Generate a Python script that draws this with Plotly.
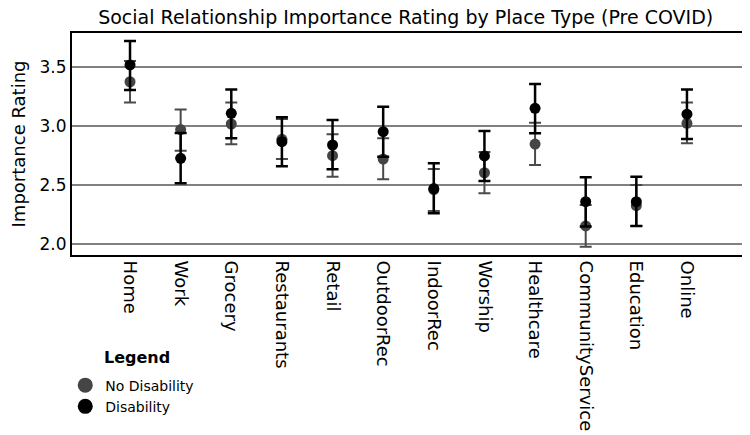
import plotly.graph_objects as go

categories = ["Home", "Work", "Grocery", "Restaurants", "Retail", "OutdoorRec",
              "IndoorRec", "Worship", "Healthcare", "CommunityService", "Education", "Online"]

# No Disability: mean, upper CI, lower CI
nd_mean = [3.375, 2.97, 3.017, 2.887, 2.749, 2.72, 2.46, 2.604, 2.847, 2.153, 2.325, 3.023]
nd_upper = [3.55, 3.14, 3.20, 3.06, 2.93, 2.896, 2.636, 2.78, 3.028, 2.33, 2.50, 3.20]
nd_lower = [3.20, 2.79, 2.845, 2.72, 2.57, 2.548, 2.28, 2.43, 2.67, 1.977, 2.153, 2.853]

# Disability: mean, upper CI, lower CI
d_mean = [3.517, 2.726, 3.107, 2.867, 2.839, 2.952, 2.47, 2.746, 3.15, 2.359, 2.359, 3.10]
d_upper = [3.72, 2.94, 3.31, 3.074, 3.051, 3.164, 2.684, 2.958, 3.356, 2.565, 2.57, 3.31]
d_lower = [3.305, 2.515, 2.896, 2.66, 2.633, 2.74, 2.26, 2.534, 2.938, 2.149, 2.153, 2.89]

y_ticks = [2.0, 2.5, 3.0, 3.5]

xs = list(range(len(categories)))
FONT = "DejaVu Sans"

fig = go.Figure()

fig.add_trace(go.Scatter(
    x=xs, y=nd_mean, mode="markers", name="No Disability", showlegend=False,
    marker=dict(color="#454545", size=11),
    error_y=dict(type="data", symmetric=False,
                 array=[u - m for u, m in zip(nd_upper, nd_mean)],
                 arrayminus=[m - l for m, l in zip(nd_mean, nd_lower)],
                 color="#4a4a4a", thickness=2, width=6),
))
fig.add_trace(go.Scatter(
    x=xs, y=d_mean, mode="markers", name="Disability", showlegend=False,
    marker=dict(color="#000000", size=11),
    error_y=dict(type="data", symmetric=False,
                 array=[u - m for u, m in zip(d_upper, d_mean)],
                 arrayminus=[m - l for m, l in zip(d_mean, d_lower)],
                 color="#000000", thickness=2.5, width=6),
))
# legend-only entries
fig.add_trace(go.Scatter(x=[None], y=[None], mode="markers", name="No Disability",
                         marker=dict(color="#454545", size=15)))
fig.add_trace(go.Scatter(x=[None], y=[None], mode="markers", name="Disability",
                         marker=dict(color="#000000", size=15)))

fig.update_layout(
    width=742, height=427,
    margin=dict(l=64, r=4, t=25, b=180, autoexpand=False),
    paper_bgcolor="white", plot_bgcolor="white",
    font=dict(family=FONT, color="black", size=17),
    title=dict(text="Social Relationship Importance Rating by Place Type (Pre COVID)",
               x=0.536, xanchor="center", y=1.0, yanchor="top", pad=dict(t=3),
               font=dict(size=19, family=FONT)),
    showlegend=True,
    legend=dict(x=-0.01, xanchor="left", y=-0.516, yanchor="top",
                font=dict(size=14, family=FONT), bgcolor="rgba(0,0,0,0)",
                tracegroupgap=0, itemwidth=30),
    annotations=[dict(text="<b>Legend</b>", xref="paper", yref="paper",
                      x=0.044, y=-0.41, xanchor="left", yanchor="top",
                      showarrow=False, font=dict(size=16, family=FONT))],
)

fig.update_xaxes(
    range=[-1.146, 11 + 1.166], tickvals=xs, ticktext=categories,
    tickangle=90, showgrid=False, zeroline=False, automargin=False,
    showline=True, linecolor="black", linewidth=2, mirror=True,
    ticks="", tickfont=dict(size=18, family=FONT),
)
fig.update_yaxes(
    range=[1.907, 3.788], tickvals=y_ticks, ticktext=["2.0", "2.5", "3.0", "3.5"],
    showgrid=True, gridcolor="#808080", gridwidth=1.5, zeroline=False, automargin=False,
    showline=True, linecolor="black", linewidth=2, mirror=True,
    ticks="", tickfont=dict(size=17, family=FONT),
    title=dict(text="Importance Rating", font=dict(size=18, family=FONT), standoff=12),
)

fig.write_html("out.html")
